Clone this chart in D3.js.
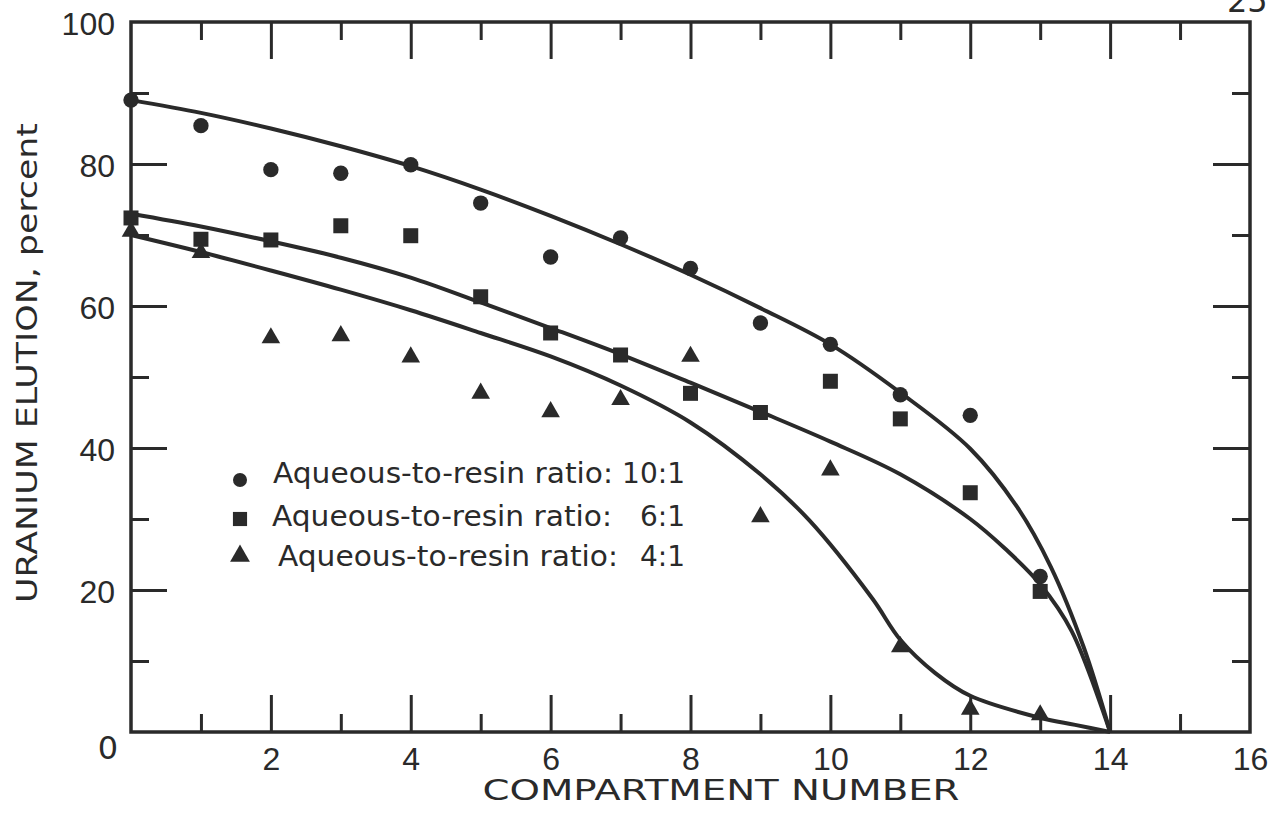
<!DOCTYPE html>
<html>

<head>
    <meta charset="utf-8">
    <style>
        body {
            margin: 0;
            background: #fff;
        }

        svg {
            display: block;
            font-family: 'DejaVu Sans', 'Noto Sans', sans-serif;
            fill: #2a2a2a;
        }

        .ticks line {
            stroke: #2a2a2a;
            stroke-width: 3;
        }

        .labels text {
            font-size: 32px;
            fill: #2a2a2a;
        }
    </style>
</head>

<body>
    <svg width="1271" height="815"></svg>

    <script src="https://d3js.org/d3.v7.min.js"></script>

    <script>
        // measured points, one value per compartment 0..13
        let compartments = [0, 1, 2, 3, 4, 5, 6, 7, 8, 9, 10, 11, 12, 13];
        let ratio10 = [89.0, 85.4, 79.2, 78.7, 79.9, 74.5, 66.9, 69.6, 65.3, 57.6, 54.6, 47.5, 44.6, 21.9];
        let ratio6 = [72.4, 69.4, 69.3, 71.3, 69.9, 61.3, 56.2, 53.1, 47.7, 45.0, 49.4, 44.1, 33.7, 19.8];
        let ratio4 = [70.5, 67.5, 55.5, 55.8, 52.8, 47.7, 45.1, 46.8, 52.9, 30.3, 36.9, 12.0, 3.2, 2.4];

        // hand drawn fitted curves
        let curve10X = [0, 1, 2, 3, 4, 5, 6, 7, 8, 9, 10, 11, 12, 12.67, 13.15, 13.62, 14];
        let curve10Y = [89, 87.2, 85.0, 82.5, 79.7, 76.4, 72.7, 68.7, 64.4, 59.7, 54.6, 47.8, 39.9, 31.7, 23.3, 12, 0];
        let curve6X = [0, 1, 2, 3, 4, 5, 6, 7, 8, 9, 10, 11, 12, 12.5, 13, 13.45, 14];
        let curve6Y = [73, 71.2, 69.1, 66.8, 64.0, 60.5, 56.9, 53.2, 49.2, 45.1, 40.9, 36.3, 30.0, 25.8, 20.8, 14.2, 0];
        let curve4X = [0, 1, 2, 3, 4, 5, 6, 7, 8, 9, 9.7, 10.6, 11, 11.5, 12, 13, 13.5, 14];
        let curve4Y = [70, 67.6, 65.0, 62.3, 59.4, 56.2, 52.9, 48.8, 43.6, 36.3, 29.8, 18.8, 13, 8.3, 5.1, 2, 1, 0];

        let xLabels = [2, 4, 6, 8, 10, 12, 14, 16];
        let yLabels = [20, 40, 60, 80, 100];
        let legendLabels = ["10:1", "6:1", "4:1"];

        let ink = "#2a2a2a";
        let svg = d3.select("svg");

        let x = d3.scaleLinear().domain([0, 16]).range([131, 1250]);
        let y = d3.scaleLinear().domain([0, 100]).range([732, 22]);

        // frame
        svg.append("rect")
            .attr("x", x(0))
            .attr("y", y(100))
            .attr("width", x(16) - x(0))
            .attr("height", y(0) - y(100))
            .style("fill", "none")
            .style("stroke", ink)
            .style("stroke-width", 3.5)

        // inside ticks, short on odd / long on even
        function ticks(axisFn, scale, values, size, transform) {
            svg.append("g")
                .attr("class", "ticks")
                .attr("transform", transform)
                .call(axisFn(scale).tickValues(values).tickSize(size).tickFormat(""))
                .call(g => g.select(".domain").remove())
        }

        let xMinor = d3.range(1, 16, 2);
        let xMajor = d3.range(2, 16, 2);
        let yMinor = d3.range(10, 100, 20);
        let yMajor = d3.range(20, 100, 20);

        ticks(d3.axisBottom, x, xMinor, -18, `translate(0,${y(0)})`);
        ticks(d3.axisBottom, x, xMajor, -37, `translate(0,${y(0)})`);
        ticks(d3.axisTop, x, xMinor, -18, `translate(0,${y(100)})`);
        ticks(d3.axisTop, x, xMajor, -37, `translate(0,${y(100)})`);
        ticks(d3.axisLeft, y, yMinor, -18, `translate(${x(0)},0)`);
        ticks(d3.axisLeft, y, yMajor, -36, `translate(${x(0)},0)`);
        ticks(d3.axisRight, y, yMinor, -18, `translate(${x(16)},0)`);
        ticks(d3.axisRight, y, yMajor, -37, `translate(${x(16)},0)`);

        // tick labels
        svg.append("g")
            .attr("class", "labels")
            .attr("transform", `translate(0,${y(0)})`)
            .call(d3.axisBottom(x).tickValues(xLabels).tickSize(0).tickPadding(15))
            .call(g => g.select(".domain").remove())
            .call(g => g.selectAll("text").attr("font-family", null).attr("font-size", null))

        svg.append("g")
            .attr("class", "labels")
            .attr("transform", `translate(${x(0)},0)`)
            .call(d3.axisLeft(y).tickValues(yLabels).tickSize(0).tickPadding(16))
            .call(g => g.select(".domain").remove())
            .call(g => g.selectAll("text").attr("font-family", null).attr("font-size", null).attr("dy", "0.39em"))

        // shared corner zero
        svg.append("text")
            .attr("x", x(0) - 13)
            .attr("y", y(0) + 27)
            .attr("text-anchor", "end")
            .style("font-size", "32px")
            .text("0")

        // axis titles
        svg.append("text")
            .attr("x", 721)
            .attr("y", 800)
            .attr("text-anchor", "middle")
            .attr("textLength", 477)
            .attr("lengthAdjust", "spacingAndGlyphs")
            .style("font-size", "28px")
            .text("COMPARTMENT NUMBER")

        svg.append("text")
            .attr("transform", "translate(37,363) rotate(-90)")
            .attr("text-anchor", "middle")
            .attr("textLength", 480)
            .attr("lengthAdjust", "spacingAndGlyphs")
            .style("font-size", "28px")
            .text("URANIUM ELUTION, percent")

        // page number, cut at the top edge
        svg.append("text")
            .attr("x", 1227)
            .attr("y", 12)
            .style("font-size", "32px")
            .text("25")

        // curves
        let line = d3.line()
            .x(d => x(d[0]))
            .y(d => y(d[1]))
            .curve(d3.curveCatmullRom.alpha(0.5))

        let curves = [
            d3.zip(curve10X, curve10Y),
            d3.zip(curve6X, curve6Y),
            d3.zip(curve4X, curve4Y)
        ];

        svg.selectAll(".fit")
            .data(curves)
            .join("path")
            .attr("class", "fit")
            .attr("d", line)
            .style("fill", "none")
            .style("stroke", ink)
            .style("stroke-width", 4)

        // markers
        let shapes = [
            d3.symbol().type(d3.symbolCircle).size(185),
            d3.symbol().type(d3.symbolSquare).size(225),
            d3.symbol().type(d3.symbolTriangle).size(150)
        ];
        let series = [ratio10, ratio6, ratio4];

        series.forEach((vals, i) => {
            svg.selectAll(".pt" + i)
                .data(d3.zip(compartments, vals))
                .join("path")
                .attr("class", "pt" + i)
                .attr("transform", d => `translate(${x(d[0])},${y(d[1])})`)
                .attr("d", shapes[i])
                .style("fill", ink)
        })

        // legend
        let rowBase = [483, 526, 566];
        let markY = [480, 519, 556];
        let textX = [273, 272, 278];
        let legendSizes = [155, 200, 170];

        legendLabels.forEach((lab, i) => {
            svg.append("path")
                .attr("transform", `translate(240,${markY[i]})`)
                .attr("d", shapes[i].size(legendSizes[i]))
                .style("fill", ink)

            svg.append("text")
                .attr("x", textX[i])
                .attr("y", rowBase[i])
                .attr("textLength", 340)
                .attr("lengthAdjust", "spacingAndGlyphs")
                .style("font-size", "28px")
                .text("Aqueous-to-resin ratio:")

            svg.append("text")
                .attr("x", 685)
                .attr("y", rowBase[i])
                .attr("text-anchor", "end")
                .style("font-size", "28px")
                .text(lab)
        })
    </script>
</body>

</html>
